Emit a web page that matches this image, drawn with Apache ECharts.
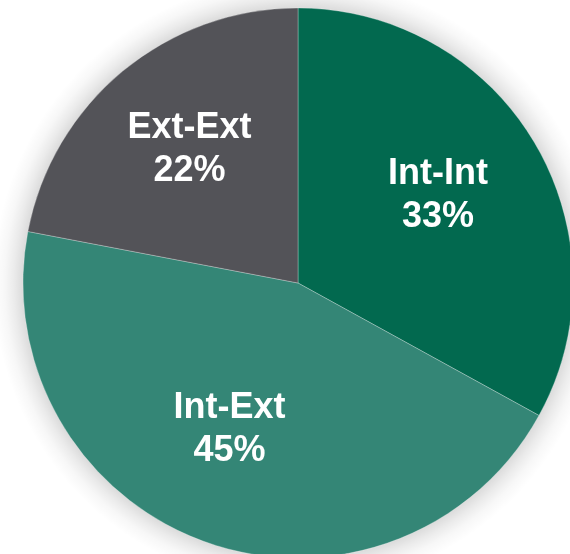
<!DOCTYPE html>
<html>
<head>
<meta charset="utf-8">
<script src="https://cdn.jsdelivr.net/npm/echarts@6/dist/echarts.min.js"></script>
<style>
html,body{margin:0;padding:0;background:#fff;}
#main{width:570px;height:554px;}
</style>
</head>
<body>
<div id="main"></div>
<script>
const categories = ['Int-Int', 'Int-Ext', 'Ext-Ext'];
const values = [33, 45, 22];
const colors = ['#02694F', '#348676', '#535358'];
const labelShift = [[19, -16], [-21, 14], [-19, -25]];

const chart = echarts.init(document.getElementById('main'), null, {renderer: 'canvas'});
const center = [298, 283];
const radius = 275;
const shadowRadius = 305;
const edge = radius / shadowRadius;

chart.setOption({
  animation: false,
  backgroundColor: '#ffffff',
  series: [
    {
      type: 'pie',
      silent: true,
      center: center,
      radius: shadowRadius,
      startAngle: 90,
      label: {show: false},
      labelLine: {show: false},
      itemStyle: {
        color: new echarts.graphic.RadialGradient(0.5, 0.5, 0.5, [
          {offset: 0, color: 'rgba(0,0,0,0.16)'},
          {offset: edge - 0.01, color: 'rgba(0,0,0,0.16)'},
          {offset: edge + 0.03, color: 'rgba(0,0,0,0.08)'},
          {offset: edge + 0.06, color: 'rgba(0,0,0,0.03)'},
          {offset: 1, color: 'rgba(0,0,0,0)'}
        ])
      },
      data: [{value: values.reduce((a, b) => a + b, 0)}]
    },
    {
      type: 'pie',
      center: center,
      radius: radius,
      startAngle: 90,
      clockwise: true,
      label: {
        show: true,
        position: 'inside',
        formatter: p => p.name + '\n' + p.value + '%',
        color: '#ffffff',
        fontFamily: 'Liberation Sans, Arial, sans-serif',
        fontWeight: 'bold',
        fontSize: 36,
        lineHeight: 43,
        align: 'center'
      },
      labelLine: {show: false},
      labelLayout: function (params) {
        const s = labelShift[params.dataIndex];
        return {dx: s[0], dy: s[1]};
      },
      itemStyle: {
        borderColor: 'rgba(255,255,255,0.35)',
        borderWidth: 0.8
      },
      data: categories.map((c, i) => ({
        name: c,
        value: values[i],
        itemStyle: {color: colors[i]}
      }))
    }
  ]
});
</script>
</body>
</html>
